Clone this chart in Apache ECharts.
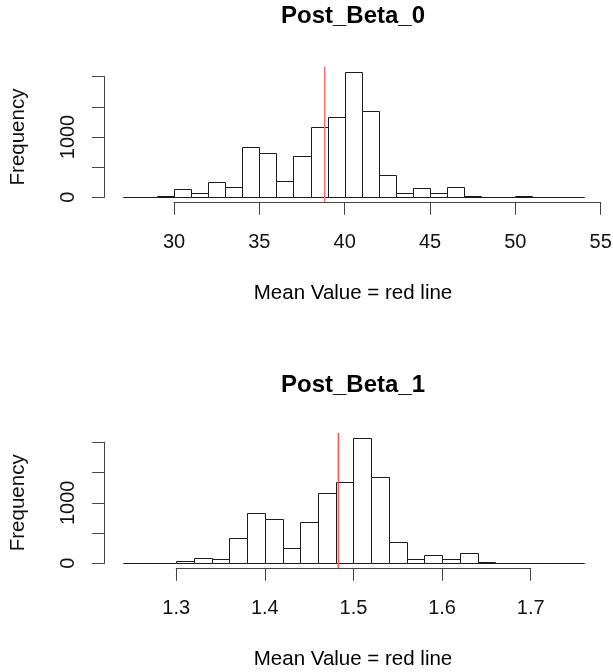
<!DOCTYPE html>
<html>
<head>
<meta charset="utf-8">
<title>Posterior histograms</title>
<script src="https://cdn.jsdelivr.net/npm/echarts@6/dist/echarts.min.js"></script>
<style>
    html, body { margin: 0; padding: 0; background: #fff; }
    #hist { width: 613px; height: 672px; }
</style>
</head>
<body>
<div id="hist"></div>
<script type="text/javascript">
    // histogram bin edges and counts
    var beta0Breaks = [27, 28, 29, 30, 31, 32, 33, 34, 35, 36, 37, 38, 39, 40, 41, 42, 43, 44, 45, 46, 47, 48, 49, 50, 51, 52, 53, 54];
    var beta0Counts = [3, 5, 20, 133, 66, 254, 171, 840, 730, 265, 685, 1166, 1338, 2083, 1432, 365, 72, 149, 66, 172, 25, 11, 11, 16, 11, 5, 5];
    var beta0Mean = 38.83;

    var beta1Breaks = [1.24, 1.26, 1.28, 1.30, 1.32, 1.34, 1.36, 1.38, 1.40, 1.42, 1.44, 1.46, 1.48, 1.50, 1.52, 1.54, 1.56, 1.58, 1.60, 1.62, 1.64, 1.66, 1.68, 1.70, 1.72, 1.74, 1.76];
    var beta1Counts = [3, 3, 11, 33, 88, 66, 420, 834, 729, 254, 679, 1154, 1337, 2071, 1425, 353, 66, 144, 66, 166, 17, 6, 11, 6, 5, 5];
    var beta1Mean = 1.483;

    var beta0Ticks = [30, 55, 5];     // min, max, step
    var beta1Ticks = [1.3, 1.7, 0.1];
    var freqTicks = [0, 2000, 500];
    var freqLabels = [0, 1000];       // R drops the labels that would overlap

    var font = 'Liberation Sans, Arial, Helvetica, sans-serif';

    function binData(breaks, counts) {
        var out = [];
        for (var i = 0; i < counts.length; i++) {
            out.push([breaks[i], breaks[i + 1], counts[i]]);
        }
        return out;
    }

    // vertical line over the whole plot region (R pads y by 4%)
    function meanLine(mean, counts) {
        var top = Math.max.apply(null, counts);
        return [[mean, -0.04 * top], [mean, 1.04 * top]];
    }

    function histItem(params, api) {
        var p0 = api.coord([api.value(0), api.value(2)]);
        var p1 = api.coord([api.value(1), 0]);
        var x0 = Math.round(p0[0]) + 0.5, x1 = Math.round(p1[0]) + 0.5;
        var y0 = Math.round(p0[1]) + 0.5, y1 = Math.round(p1[1]) + 0.5;
        return {
            type: 'rect',
            shape: { x: x0, y: y0, width: x1 - x0, height: y1 - y0 },
            style: { fill: '#fff', stroke: '#1a1a1a', lineWidth: 1 }
        };
    }

    function xAxisFor(idx, ticks, digits) {
        return {
            type: 'value', gridIndex: idx,
            min: ticks[0], max: ticks[1], interval: ticks[2],
            offset: 5,
            axisLine: { onZero: false, lineStyle: { color: '#444', width: 1 } },
            axisTick: { length: 12.5, lineStyle: { color: '#444' } },
            axisLabel: {
                margin: 30, color: '#111', fontSize: 20, fontFamily: font,
                formatter: function (v) { return v.toFixed(digits); }
            },
            splitLine: { show: false }
        };
    }

    function yAxisFor(idx, offset) {
        return {
            type: 'value', gridIndex: idx,
            min: freqTicks[0], max: freqTicks[1], interval: freqTicks[2],
            offset: offset,
            name: 'Frequency', nameLocation: 'middle', nameGap: 76,
            nameTextStyle: { color: '#111', fontSize: 20.5, fontFamily: font },
            axisLine: { show: true, onZero: false, lineStyle: { color: '#444', width: 1 } },
            axisTick: { show: true, length: 12.5, lineStyle: { color: '#444' } },
            axisLabel: {
                rotate: 90, margin: 26, color: '#111', fontSize: 20, fontFamily: font,
                formatter: function (v) { return freqLabels.indexOf(v) >= 0 ? String(v) : ''; }
            },
            splitLine: { show: false }
        };
    }

    function titleAt(text, top, bold) {
        return {
            text: text, left: 353, top: top, textAlign: 'center', padding: 0,
            textStyle: { color: '#000', fontFamily: font, fontSize: bold ? 24 : 20.5, fontWeight: bold ? 'bold' : 'normal' }
        };
    }

    var myChart = echarts.init(document.getElementById('hist'), null, { renderer: 'canvas' });
    var option = {
        animation: false,
        backgroundColor: '#fff',
        title: [
            titleAt('Post_Beta_0', 4.5, true),
            titleAt('Mean Value = red line', 282.5, false),
            titleAt('Post_Beta_1', 373, true),
            titleAt('Mean Value = red line', 648.5, false)
        ],
        grid: [
            { left: 174, top: 76.7, width: 426.7, height: 120.6, outerBoundsMode: 'none' },
            { left: 176.2, top: 442.3, width: 354.5, height: 121, outerBoundsMode: 'none' }
        ],
        xAxis: [
            xAxisFor(0, beta0Ticks, 0),
            xAxisFor(1, beta1Ticks, 1)
        ],
        yAxis: [
            yAxisFor(0, 69.5),
            yAxisFor(1, 71.5)
        ],
        series: [
            {
                type: 'custom', xAxisIndex: 0, yAxisIndex: 0, clip: false,
                renderItem: histItem, encode: { x: [0, 1], y: 2 },
                data: binData(beta0Breaks, beta0Counts)
            },
            {
                type: 'line', xAxisIndex: 0, yAxisIndex: 0, clip: false, silent: true,
                symbol: 'none', lineStyle: { color: '#ff6b6b', width: 1.5 },
                data: meanLine(beta0Mean, beta0Counts)
            },
            {
                type: 'custom', xAxisIndex: 1, yAxisIndex: 1, clip: false,
                renderItem: histItem, encode: { x: [0, 1], y: 2 },
                data: binData(beta1Breaks, beta1Counts)
            },
            {
                type: 'line', xAxisIndex: 1, yAxisIndex: 1, clip: false, silent: true,
                symbol: 'none', lineStyle: { color: '#ff5252', width: 1.5 },
                data: meanLine(beta1Mean, beta1Counts)
            }
        ]
    };
    myChart.setOption(option);
</script>
</body>
</html>
